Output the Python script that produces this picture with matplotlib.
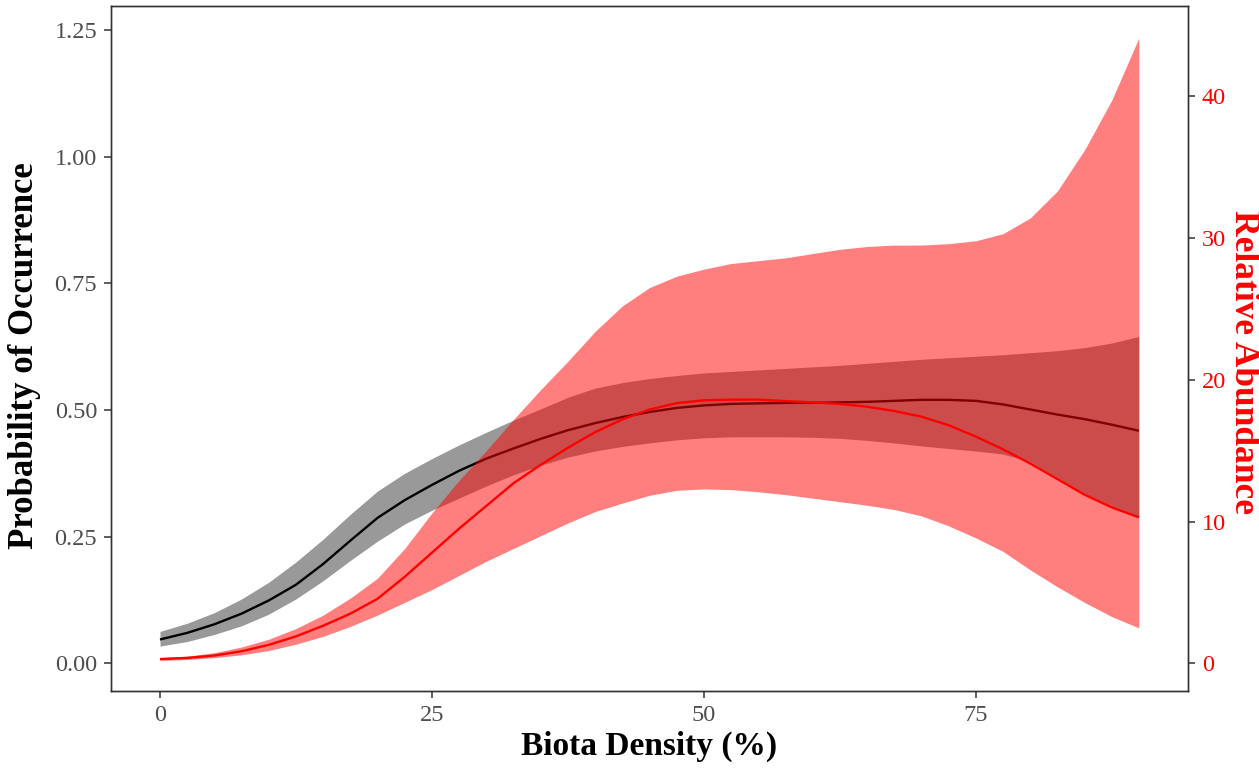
import matplotlib
import matplotlib.pyplot as plt
import numpy as np
from matplotlib.ticker import FormatStrFormatter

matplotlib.use("Agg", force=True)

# biota density (%), read every 2.5
density = [0, 2.5, 5, 7.5, 10, 12.5, 15, 17.5, 20, 22.5, 25, 27.5, 30, 32.5, 35, 37.5,
           40, 42.5, 45, 47.5, 50, 52.5, 55, 57.5, 60, 62.5, 65, 67.5, 70, 72.5, 75,
           77.5, 80, 82.5, 85, 87.5, 90]

# probability of occurrence (left axis)
occ_fit = [0.047, 0.060, 0.077, 0.098, 0.124, 0.155, 0.196, 0.242, 0.287, 0.322,
           0.352, 0.380, 0.404, 0.424, 0.443, 0.460, 0.474, 0.486, 0.496, 0.504,
           0.509, 0.512, 0.513, 0.514, 0.514, 0.515, 0.516, 0.518, 0.520, 0.520,
           0.518, 0.511, 0.501, 0.491, 0.482, 0.471, 0.459]
occ_low = [0.034, 0.043, 0.057, 0.074, 0.097, 0.127, 0.163, 0.203, 0.241, 0.275,
           0.302, 0.326, 0.350, 0.372, 0.391, 0.407, 0.419, 0.428, 0.435, 0.441,
           0.445, 0.447, 0.447, 0.447, 0.446, 0.444, 0.440, 0.435, 0.429, 0.424,
           0.419, 0.413, 0.398, 0.366, 0.335, 0.310, 0.289]
occ_high = [0.063, 0.079, 0.100, 0.127, 0.160, 0.200, 0.245, 0.294, 0.340, 0.375,
            0.404, 0.431, 0.456, 0.480, 0.502, 0.525, 0.543, 0.554, 0.562, 0.568,
            0.573, 0.576, 0.579, 0.582, 0.585, 0.588, 0.592, 0.596, 0.600, 0.603,
            0.606, 0.609, 0.613, 0.617, 0.623, 0.632, 0.645]

# relative abundance (right axis)
abund_fit = [0.3, 0.38, 0.55, 0.85, 1.3, 1.9, 2.65, 3.5, 4.55, 6.1, 7.8, 9.5, 11.1,
             12.7, 14.0, 15.2, 16.3, 17.2, 17.9, 18.35, 18.55, 18.6, 18.6, 18.5, 18.4,
             18.3, 18.1, 17.8, 17.4, 16.8, 16.0, 15.1, 14.1, 13.0, 11.9, 11.0, 10.3]
abund_low = [0.2, 0.27, 0.4, 0.6, 0.9, 1.35, 1.9, 2.6, 3.4, 4.3, 5.2, 6.2, 7.2, 8.1,
             9.0, 9.9, 10.7, 11.3, 11.85, 12.2, 12.3, 12.25, 12.1, 11.9, 11.65, 11.4,
             11.15, 10.85, 10.4, 9.7, 8.85, 7.9, 6.6, 5.4, 4.3, 3.3, 2.5]
abund_high = [0.4, 0.5, 0.75, 1.15, 1.7, 2.45, 3.4, 4.6, 6.0, 8.1, 10.6, 12.9, 15.0,
              17.2, 19.3, 21.3, 23.4, 25.2, 26.5, 27.3, 27.8, 28.2, 28.4, 28.6, 28.9,
              29.2, 29.4, 29.5, 29.5, 29.6, 29.8, 30.3, 31.4, 33.3, 36.2, 39.7, 44.1]

occ_ticks = [0.00, 0.25, 0.50, 0.75, 1.00, 1.25]
abund_ticks = [0, 10, 20, 30, 40]
density_ticks = [0, 25, 50, 75]

# abundance units per probability unit on the secondary axis
SCALE = 35.74
OCC_LIM = (-0.054, 1.297)

plt.rcParams["font.family"] = ["Liberation Serif", "DejaVu Serif"]

fig = plt.figure(figsize=(12.59, 7.68), dpi=100)
ax = fig.add_axes([0.0882, 0.1007, 0.8552, 0.8913])
ax2 = ax.twinx()

x = np.array(density)
ax.fill_between(x, occ_low, occ_high, color="black", alpha=0.4, linewidth=0)
ax.plot(x, occ_fit, color="black", linewidth=1.7, solid_capstyle="butt")

ax2.fill_between(x, abund_low, abund_high, color="red", alpha=0.5, linewidth=0)
ax2.plot(x, abund_fit, color="red", linewidth=1.7, solid_capstyle="butt")

ax.set_xlim(-4.5, 94.5)
ax.set_ylim(*OCC_LIM)
ax2.set_ylim(OCC_LIM[0] * SCALE, OCC_LIM[1] * SCALE)

ax.set_xticks(density_ticks)
ax.set_yticks(occ_ticks)
ax.yaxis.set_major_formatter(FormatStrFormatter("%.2f"))
ax2.set_yticks(abund_ticks)

for a in (ax, ax2):
    for spine in a.spines.values():
        spine.set_color("#333333")
        spine.set_linewidth(1.0)
    a.tick_params(length=5, width=1.1, color="#333333", labelsize=17.5)

ax.tick_params(axis="both", labelcolor="#4D4D4D", pad=5)
ax2.tick_params(axis="y", labelcolor="red", pad=5)

ax.set_xlabel("Biota Density (%)", fontsize=24, fontweight="bold", labelpad=4)
ax.set_ylabel("Probability of Occurrence", fontsize=25, fontweight="bold",
              va="center", ha="center")
ax.yaxis.set_label_coords(-0.080, 0.49)
ax2.set_ylabel("Relative Abundance", fontsize=25.5, fontweight="bold", color="red",
               rotation=270, va="center", ha="center")
ax2.yaxis.set_label_coords(1.052, 0.48)

fig.savefig("out.png", dpi=100)
plt.close(fig)
